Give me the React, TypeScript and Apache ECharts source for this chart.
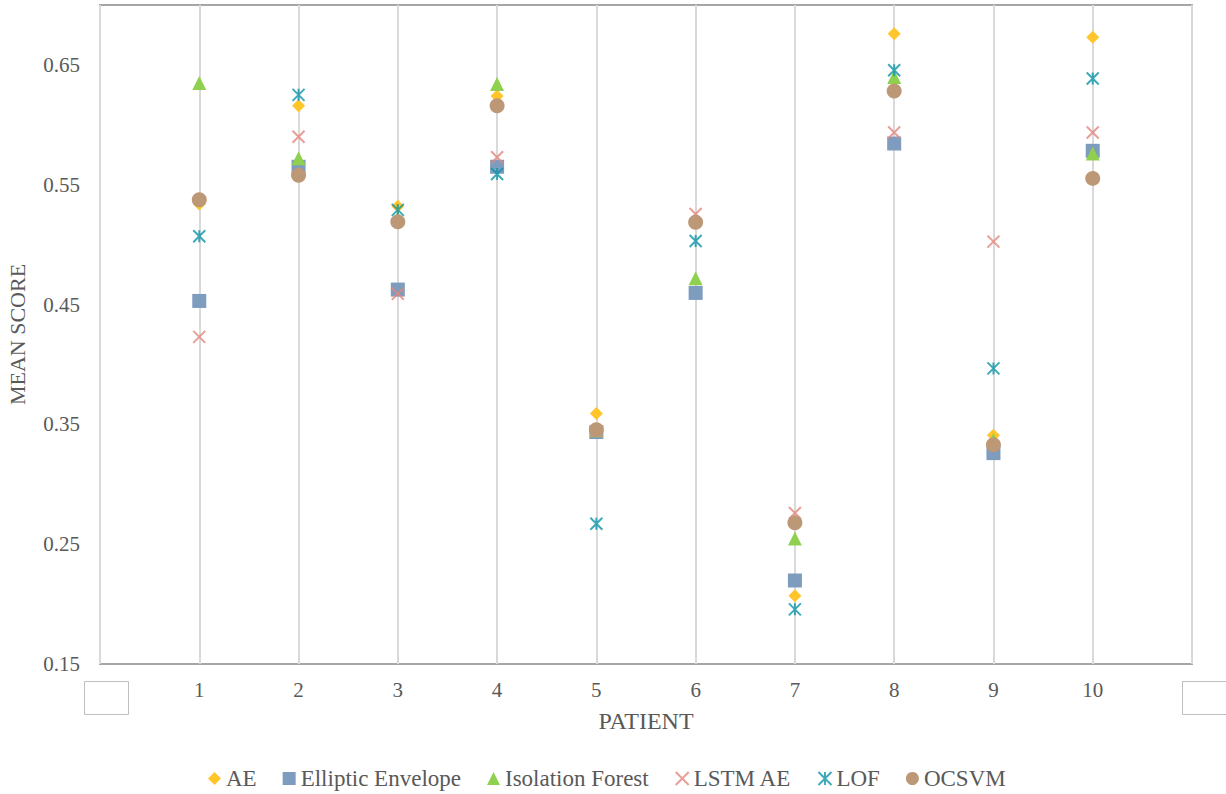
import React, { useEffect, useRef } from "react";
import * as echarts from "echarts";

const patients = [1, 2, 3, 4, 5, 6, 7, 8, 9, 10];
const seriesNames = ["AE", "Elliptic Envelope", "Isolation Forest", "LSTM AE", "LOF", "OCSVM"];
const aeValues = [0.534, 0.616, 0.532, 0.624, 0.359, 0.52, 0.207, 0.676, 0.341, 0.673];
const ellipticValues = [0.453, 0.565, 0.4625, 0.565, 0.3436, 0.4597, 0.2197, 0.5844, 0.326, 0.5783];
const isolationValues = [0.635, 0.572, 0.522, 0.634, 0.345, 0.472, 0.2547, 0.64, 0.337, 0.576];
const lstmValues = [0.423, 0.59, 0.459, 0.573, 0.344, 0.5256, 0.276, 0.5936, 0.5025, 0.5936];
const lofValues = [0.507, 0.625, 0.529, 0.559, 0.267, 0.503, 0.1956, 0.6456, 0.3967, 0.6386];
const ocsvmValues = [0.5375, 0.558, 0.519, 0.616, 0.3456, 0.5186, 0.2678, 0.6283, 0.333, 0.5553];
const yTicks = [0.15, 0.25, 0.35, 0.45, 0.55, 0.65];

const FONT = "'Liberation Serif', 'Times New Roman', serif";
const TEXT = "#595959";

export default function App() {
  const ref = useRef<HTMLDivElement>(null);
  useEffect(() => {
    if (!ref.current) return;
    const chart = echarts.init(ref.current, undefined, { renderer: "svg" });
    const toData = (vals: number[]) => patients.map((p, i) => [p, vals[i]]);
    const mk = (name: string, vals: number[], symbol: string, size: number, color: string, stroke = false) => ({
      name,
      type: "scatter",
      data: toData(vals),
      symbol,
      symbolSize: size,
      itemStyle: stroke
        ? { color: "rgba(0,0,0,0)", borderColor: color, borderWidth: 2 }
        : { color, opacity: 1 },
      emphasis: { disabled: true },
    });
    chart.setOption({
      animation: false,
      backgroundColor: "#ffffff",
      grid: {
        left: 100,
        right: 34,
        top: 5,
        bottom: 130,
        show: true,
        borderColor: "#A6A6A6",
        borderWidth: 2,
        outerBoundsMode: "none",
      },
      legend: {
        top: 762,
        left: 203,
        itemWidth: 13,
        itemHeight: 13,
        itemGap: 26,
        textStyle: { fontFamily: FONT, fontSize: 23, color: TEXT },
        data: seriesNames,
      },
      xAxis: {
        type: "value",
        min: 0,
        max: 11,
        interval: 1,
        name: "PATIENT",
        nameLocation: "middle",
        nameGap: 45,
        nameTextStyle: { fontFamily: FONT, fontSize: 24, color: TEXT },
        axisLine: { show: false },
        axisTick: { show: false },
        axisLabel: {
          margin: 15,
          fontFamily: FONT,
          fontSize: 21,
          color: TEXT,
          formatter: (v: number) => (patients.includes(v) ? String(v) : ""),
        },
        splitLine: { show: true, lineStyle: { color: "#D9D9D9", width: 2 } },
      },
      yAxis: {
        type: "value",
        min: 0.15,
        max: 0.7,
        interval: 0.1,
        name: "MEAN SCORE",
        nameLocation: "middle",
        nameGap: 72,
        nameTextStyle: { fontFamily: FONT, fontSize: 22, color: TEXT },
        axisLine: { show: false },
        axisTick: { show: false },
        splitLine: { show: false },
        axisLabel: {
          margin: 20,
          fontFamily: FONT,
          fontSize: 21,
          color: TEXT,
          showMaxLabel: false,
          formatter: (v: number) => {
            const t = yTicks.find((k) => Math.abs(k - v) < 1e-6);
            return t === undefined ? "" : t.toFixed(2);
          },
        },
      },
      graphic: [
        { type: "rect", shape: { x: 84.5, y: 681.5, width: 44, height: 33 }, style: { fill: "#fff", stroke: "#BFBFBF", lineWidth: 1 } },
        { type: "rect", shape: { x: 1182.5, y: 681.5, width: 50, height: 33 }, style: { fill: "#fff", stroke: "#BFBFBF", lineWidth: 1 } },
      ],
      series: [
        mk(seriesNames[0], aeValues, "diamond", 13, "#FFC52A"),
        mk(seriesNames[1], ellipticValues, "rect", 14, "#7E9CBE"),
        mk(seriesNames[2], isolationValues, "triangle", 14, "#8FD14F"),
        mk(seriesNames[3], lstmValues, "path://M0 0 L10 10 M10 0 L0 10", 12, "#E3867C", true),
        mk(seriesNames[4], lofValues, "path://M0 0 L10 10 M10 0 L0 10 M5 0 L5 10", 12, "#0E93A6", true),
        mk(seriesNames[5], ocsvmValues, "circle", 15, "#BC9877"),
      ],
    });
    return () => chart.dispose();
  }, []);
  return <div ref={ref} style={{ position: "fixed", left: 0, top: 0, width: 1226, height: 794 }} />;
}
